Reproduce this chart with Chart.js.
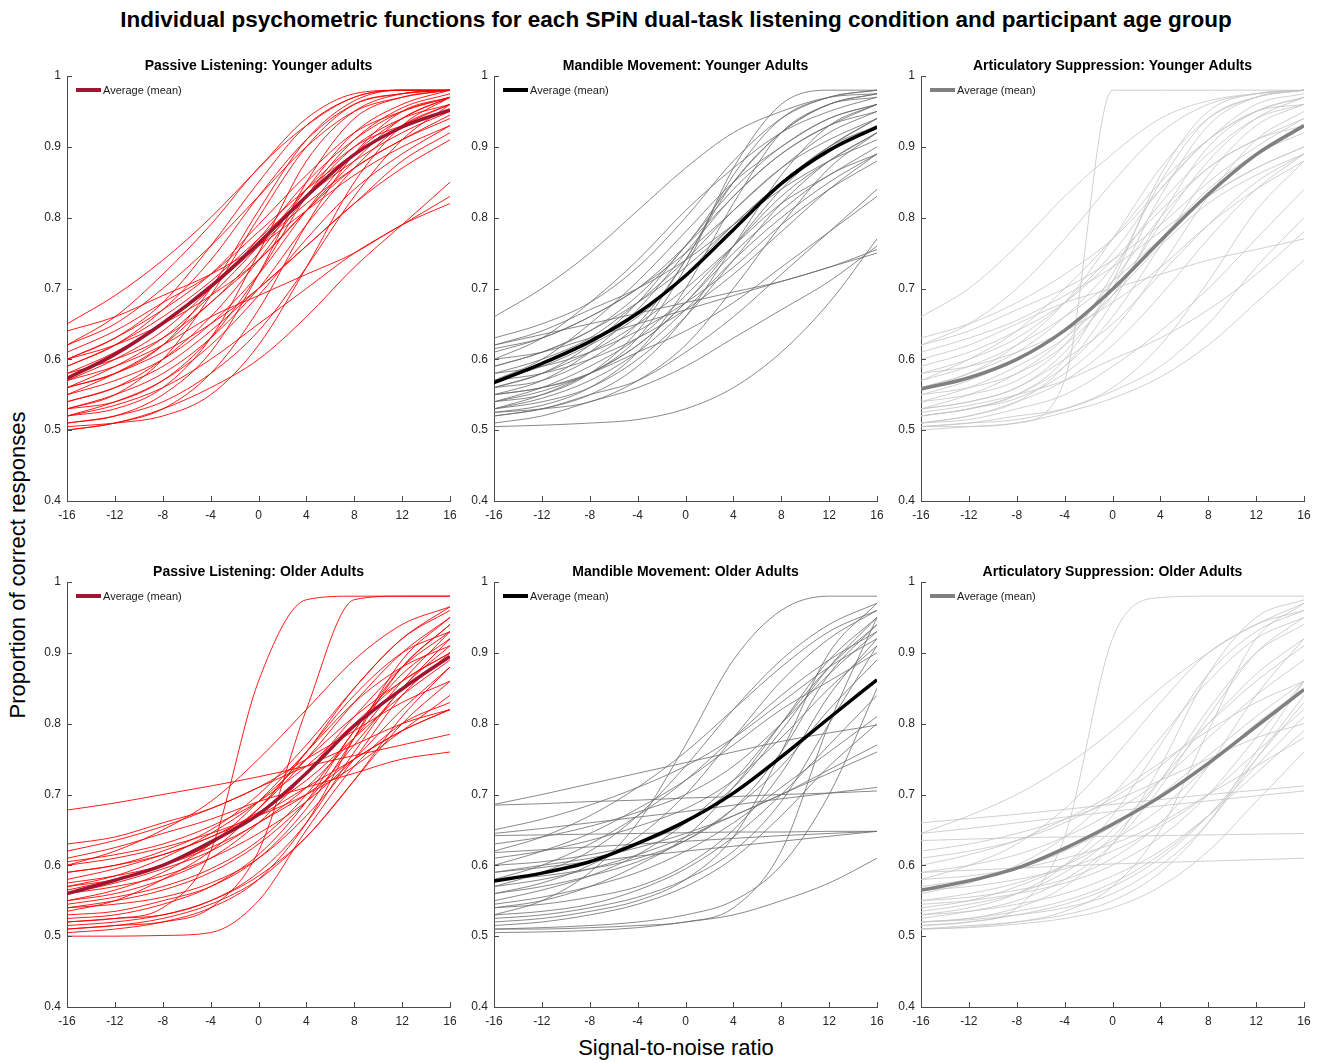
<!DOCTYPE html>
<html>
<head>
<meta charset="utf-8">
<script src="https://cdn.jsdelivr.net/npm/chart.js@4.4.1/dist/chart.umd.min.js"></script>
<style>
  body { margin: 0; background: #fff; }
  #fig { position: relative; width: 1321px; height: 1063px; font-family: "Liberation Sans", Arial, sans-serif; color: #000; overflow: hidden; }
  #fig canvas { position: absolute; }
  .lbl { position: absolute; white-space: nowrap; }
</style>
</head>
<body>
<div id="fig">
  <div class="lbl" style="left:0;width:1352px;top:7px;text-align:center;font-size:22.5px;font-weight:bold;">Individual psychometric functions for each SPiN dual-task listening condition and participant age group</div>
  <div class="lbl" style="left:18px;top:565px;font-size:22px;transform:translate(-50%,-50%) rotate(-90deg);">Proportion of correct responses</div>
  <div class="lbl" style="left:676px;top:1048px;font-size:22px;transform:translate(-50%,-50%);">Signal-to-noise ratio</div>
</div>
<script>
// SNR sample points (dB) and axis ticks
const snr = [-16, -12, -8, -4, 0, 4, 8, 12, 16];
const xTicks = [-16, -12, -8, -4, 0, 4, 8, 12, 16];
const yTicks = [0.4, 0.5, 0.6, 0.7, 0.8, 0.9, 1];

// Passive listening, younger adults
const plYoungMean = [0.573, 0.607, 0.651, 0.703, 0.764, 0.83, 0.889, 0.928, 0.952];
const plYoung = [
  [0.65, 0.69, 0.74, 0.80, 0.87, 0.94, 0.975, 0.98, 0.98],
  [0.62, 0.66, 0.72, 0.79, 0.87, 0.93, 0.97, 0.98, 0.98],
  [0.60, 0.63, 0.68, 0.76, 0.85, 0.93, 0.97, 0.98, 0.98],
  [0.59, 0.62, 0.67, 0.74, 0.83, 0.91, 0.96, 0.975, 0.98],
  [0.56, 0.58, 0.62, 0.70, 0.81, 0.91, 0.965, 0.98, 0.98],
  [0.53, 0.55, 0.60, 0.69, 0.80, 0.90, 0.96, 0.975, 0.98],
  [0.52, 0.53, 0.56, 0.63, 0.75, 0.88, 0.95, 0.975, 0.98],
  [0.51, 0.52, 0.55, 0.61, 0.72, 0.85, 0.94, 0.97, 0.98],
  [0.57, 0.60, 0.64, 0.70, 0.77, 0.85, 0.91, 0.95, 0.97],
  [0.61, 0.64, 0.68, 0.72, 0.78, 0.84, 0.89, 0.93, 0.96],
  [0.64, 0.66, 0.69, 0.72, 0.76, 0.81, 0.86, 0.90, 0.93],
  [0.58, 0.61, 0.65, 0.70, 0.76, 0.82, 0.87, 0.91, 0.94],
  [0.55, 0.58, 0.62, 0.68, 0.74, 0.81, 0.87, 0.91, 0.945],
  [0.53, 0.55, 0.58, 0.63, 0.70, 0.79, 0.87, 0.93, 0.96],
  [0.50, 0.51, 0.53, 0.58, 0.67, 0.79, 0.89, 0.95, 0.97],
  [0.51, 0.52, 0.54, 0.58, 0.64, 0.73, 0.83, 0.91, 0.96],
  [0.54, 0.56, 0.59, 0.64, 0.70, 0.76, 0.82, 0.87, 0.91],
  [0.56, 0.58, 0.61, 0.65, 0.70, 0.76, 0.82, 0.88, 0.92],
  [0.57, 0.59, 0.62, 0.66, 0.69, 0.72, 0.75, 0.79, 0.82],
  [0.50, 0.51, 0.53, 0.56, 0.60, 0.66, 0.73, 0.79, 0.85],
  [0.52, 0.535, 0.56, 0.60, 0.65, 0.70, 0.75, 0.79, 0.83],
  [0.59, 0.62, 0.66, 0.71, 0.77, 0.83, 0.88, 0.92, 0.95],
  [0.60, 0.62, 0.65, 0.69, 0.74, 0.81, 0.88, 0.94, 0.97],
  [0.55, 0.57, 0.60, 0.65, 0.72, 0.81, 0.89, 0.94, 0.97],
  [0.52, 0.54, 0.57, 0.62, 0.69, 0.77, 0.84, 0.89, 0.93],
  [0.505, 0.51, 0.52, 0.55, 0.62, 0.73, 0.85, 0.93, 0.97],
  [0.58, 0.60, 0.63, 0.68, 0.75, 0.84, 0.92, 0.96, 0.98],
  [0.62, 0.65, 0.70, 0.76, 0.83, 0.90, 0.95, 0.97, 0.98],
  [0.54, 0.56, 0.60, 0.66, 0.74, 0.83, 0.90, 0.94, 0.96],
  [0.56, 0.59, 0.63, 0.69, 0.76, 0.84, 0.90, 0.93, 0.95],
  [0.53, 0.54, 0.57, 0.63, 0.72, 0.83, 0.91, 0.955, 0.975],
  [0.60, 0.63, 0.67, 0.72, 0.79, 0.86, 0.92, 0.95, 0.97]
];

// Mandible movement, younger adults
const mmYoungMean = [0.567, 0.594, 0.625, 0.665, 0.718, 0.783, 0.848, 0.895, 0.928];
const mmYoung = [
  [0.66, 0.70, 0.75, 0.81, 0.87, 0.92, 0.95, 0.97, 0.975],
  [0.63, 0.65, 0.68, 0.73, 0.80, 0.88, 0.94, 0.97, 0.98],
  [0.62, 0.64, 0.67, 0.70, 0.74, 0.79, 0.84, 0.88, 0.91],
  [0.61, 0.63, 0.66, 0.70, 0.76, 0.83, 0.89, 0.93, 0.96],
  [0.60, 0.61, 0.63, 0.65, 0.67, 0.69, 0.71, 0.73, 0.755],
  [0.62, 0.635, 0.65, 0.665, 0.68, 0.695, 0.71, 0.73, 0.75],
  [0.59, 0.61, 0.64, 0.69, 0.76, 0.85, 0.92, 0.96, 0.975],
  [0.58, 0.60, 0.63, 0.68, 0.74, 0.81, 0.87, 0.91, 0.94],
  [0.57, 0.59, 0.62, 0.66, 0.72, 0.79, 0.85, 0.90, 0.93],
  [0.56, 0.57, 0.60, 0.65, 0.74, 0.86, 0.94, 0.97, 0.98],
  [0.55, 0.56, 0.58, 0.63, 0.73, 0.87, 0.96, 0.98, 0.98],
  [0.54, 0.55, 0.58, 0.64, 0.74, 0.85, 0.92, 0.96, 0.97],
  [0.54, 0.56, 0.59, 0.63, 0.69, 0.76, 0.83, 0.88, 0.92],
  [0.53, 0.55, 0.58, 0.62, 0.68, 0.75, 0.81, 0.86, 0.89],
  [0.53, 0.54, 0.56, 0.60, 0.66, 0.74, 0.82, 0.88, 0.92],
  [0.52, 0.53, 0.55, 0.59, 0.66, 0.76, 0.86, 0.93, 0.96],
  [0.525, 0.53, 0.54, 0.57, 0.62, 0.70, 0.79, 0.87, 0.92],
  [0.52, 0.53, 0.55, 0.57, 0.61, 0.66, 0.72, 0.78, 0.84],
  [0.55, 0.56, 0.58, 0.61, 0.64, 0.68, 0.73, 0.78, 0.83],
  [0.51, 0.52, 0.54, 0.56, 0.59, 0.63, 0.67, 0.71, 0.76],
  [0.505, 0.507, 0.51, 0.515, 0.53, 0.56, 0.61, 0.68, 0.77],
  [0.56, 0.58, 0.61, 0.65, 0.70, 0.76, 0.82, 0.86, 0.90],
  [0.57, 0.60, 0.65, 0.71, 0.78, 0.85, 0.90, 0.94, 0.96],
  [0.60, 0.63, 0.68, 0.74, 0.81, 0.87, 0.92, 0.95, 0.97],
  [0.55, 0.57, 0.61, 0.67, 0.75, 0.83, 0.89, 0.93, 0.95],
  [0.54, 0.555, 0.58, 0.62, 0.68, 0.76, 0.84, 0.90, 0.94],
  [0.58, 0.59, 0.61, 0.64, 0.68, 0.73, 0.79, 0.84, 0.88],
  [0.53, 0.545, 0.57, 0.61, 0.67, 0.74, 0.80, 0.85, 0.89],
  [0.56, 0.58, 0.62, 0.68, 0.76, 0.84, 0.90, 0.94, 0.96],
  [0.525, 0.535, 0.56, 0.61, 0.70, 0.82, 0.92, 0.96, 0.975],
  [0.59, 0.61, 0.64, 0.68, 0.73, 0.79, 0.85, 0.90, 0.94],
  [0.57, 0.58, 0.60, 0.63, 0.67, 0.72, 0.78, 0.84, 0.89],
  [0.615, 0.63, 0.66, 0.70, 0.75, 0.81, 0.87, 0.92, 0.95]
];

// Articulatory suppression, younger adults
const asYoungMean = [0.558, 0.574, 0.600, 0.641, 0.699, 0.767, 0.833, 0.889, 0.930];
const asYoung = [
  [0.505, 0.505, 0.51, 0.57, 0.98, 0.98, 0.98, 0.98, 0.98],
  [0.66, 0.70, 0.76, 0.83, 0.89, 0.94, 0.965, 0.975, 0.98],
  [0.63, 0.65, 0.68, 0.72, 0.77, 0.84, 0.91, 0.96, 0.975],
  [0.62, 0.64, 0.67, 0.70, 0.74, 0.79, 0.85, 0.90, 0.94],
  [0.61, 0.63, 0.655, 0.69, 0.73, 0.78, 0.83, 0.87, 0.90],
  [0.60, 0.62, 0.65, 0.68, 0.70, 0.72, 0.74, 0.755, 0.77],
  [0.58, 0.60, 0.63, 0.68, 0.75, 0.84, 0.91, 0.95, 0.97],
  [0.56, 0.58, 0.61, 0.66, 0.73, 0.82, 0.89, 0.94, 0.96],
  [0.55, 0.56, 0.58, 0.62, 0.69, 0.79, 0.88, 0.94, 0.97],
  [0.53, 0.54, 0.56, 0.61, 0.70, 0.83, 0.93, 0.97, 0.98],
  [0.52, 0.53, 0.55, 0.60, 0.71, 0.86, 0.95, 0.975, 0.98],
  [0.52, 0.53, 0.545, 0.58, 0.64, 0.73, 0.83, 0.91, 0.95],
  [0.51, 0.52, 0.54, 0.57, 0.62, 0.69, 0.77, 0.84, 0.89],
  [0.51, 0.515, 0.53, 0.55, 0.59, 0.64, 0.70, 0.77, 0.84],
  [0.505, 0.51, 0.52, 0.53, 0.555, 0.59, 0.65, 0.73, 0.80],
  [0.50, 0.505, 0.51, 0.525, 0.545, 0.575, 0.62, 0.68, 0.74],
  [0.525, 0.535, 0.55, 0.57, 0.60, 0.63, 0.67, 0.72, 0.78],
  [0.54, 0.56, 0.59, 0.63, 0.69, 0.76, 0.82, 0.86, 0.89],
  [0.53, 0.55, 0.58, 0.63, 0.71, 0.80, 0.87, 0.91, 0.94],
  [0.57, 0.59, 0.62, 0.66, 0.71, 0.77, 0.83, 0.87, 0.90],
  [0.59, 0.61, 0.64, 0.68, 0.74, 0.81, 0.87, 0.91, 0.93],
  [0.55, 0.57, 0.60, 0.64, 0.70, 0.77, 0.84, 0.89, 0.92],
  [0.52, 0.53, 0.55, 0.59, 0.66, 0.76, 0.86, 0.93, 0.96],
  [0.51, 0.52, 0.54, 0.59, 0.68, 0.80, 0.90, 0.95, 0.97],
  [0.54, 0.55, 0.57, 0.62, 0.72, 0.85, 0.94, 0.97, 0.98],
  [0.56, 0.58, 0.62, 0.68, 0.77, 0.87, 0.94, 0.97, 0.98],
  [0.58, 0.59, 0.61, 0.64, 0.68, 0.73, 0.79, 0.84, 0.88],
  [0.53, 0.54, 0.56, 0.60, 0.65, 0.72, 0.79, 0.85, 0.89],
  [0.62, 0.65, 0.70, 0.77, 0.85, 0.92, 0.96, 0.975, 0.98],
  [0.505, 0.51, 0.515, 0.53, 0.56, 0.62, 0.71, 0.81, 0.88],
  [0.57, 0.60, 0.64, 0.70, 0.77, 0.85, 0.91, 0.95, 0.96]
];

// Passive listening, older adults
const plOldMean = [0.56, 0.579, 0.60, 0.633, 0.672, 0.73, 0.797, 0.849, 0.895];
const plOld = [
  [0.52, 0.525, 0.54, 0.62, 0.86, 0.975, 0.98, 0.98, 0.98],
  [0.51, 0.515, 0.52, 0.54, 0.62, 0.82, 0.975, 0.98, 0.98],
  [0.678, 0.688, 0.70, 0.712, 0.725, 0.74, 0.755, 0.77, 0.785],
  [0.61, 0.625, 0.645, 0.665, 0.69, 0.71, 0.73, 0.75, 0.76],
  [0.50, 0.50, 0.501, 0.505, 0.55, 0.65, 0.74, 0.80, 0.83],
  [0.60, 0.62, 0.65, 0.69, 0.75, 0.82, 0.89, 0.94, 0.965],
  [0.59, 0.60, 0.62, 0.65, 0.70, 0.77, 0.85, 0.92, 0.96],
  [0.57, 0.58, 0.60, 0.63, 0.68, 0.76, 0.85, 0.92, 0.965],
  [0.55, 0.56, 0.58, 0.61, 0.66, 0.73, 0.81, 0.88, 0.93],
  [0.54, 0.55, 0.565, 0.59, 0.63, 0.69, 0.77, 0.85, 0.92],
  [0.53, 0.535, 0.55, 0.57, 0.61, 0.68, 0.78, 0.88, 0.94],
  [0.52, 0.525, 0.53, 0.55, 0.59, 0.66, 0.76, 0.85, 0.91],
  [0.51, 0.515, 0.525, 0.545, 0.58, 0.64, 0.72, 0.80, 0.86],
  [0.505, 0.51, 0.52, 0.54, 0.58, 0.66, 0.78, 0.89, 0.95],
  [0.58, 0.595, 0.615, 0.64, 0.67, 0.71, 0.75, 0.79, 0.82],
  [0.56, 0.575, 0.595, 0.62, 0.66, 0.70, 0.75, 0.79, 0.82],
  [0.62, 0.635, 0.655, 0.68, 0.71, 0.75, 0.79, 0.83, 0.86],
  [0.60, 0.61, 0.625, 0.645, 0.67, 0.70, 0.74, 0.79, 0.84],
  [0.57, 0.585, 0.61, 0.645, 0.69, 0.75, 0.81, 0.86, 0.90],
  [0.55, 0.565, 0.59, 0.63, 0.69, 0.76, 0.83, 0.88, 0.91],
  [0.535, 0.55, 0.58, 0.62, 0.68, 0.76, 0.84, 0.90, 0.93],
  [0.56, 0.57, 0.585, 0.61, 0.645, 0.69, 0.75, 0.82, 0.88],
  [0.54, 0.545, 0.555, 0.575, 0.61, 0.67, 0.75, 0.84, 0.90],
  [0.515, 0.52, 0.53, 0.55, 0.585, 0.64, 0.72, 0.81, 0.88],
  [0.59, 0.60, 0.615, 0.64, 0.675, 0.72, 0.78, 0.84, 0.89],
  [0.63, 0.64, 0.66, 0.68, 0.71, 0.74, 0.77, 0.80, 0.82],
  [0.605, 0.615, 0.63, 0.655, 0.69, 0.74, 0.80, 0.86, 0.90],
  [0.575, 0.585, 0.60, 0.625, 0.66, 0.71, 0.78, 0.86, 0.93],
  [0.525, 0.53, 0.545, 0.57, 0.615, 0.69, 0.79, 0.87, 0.92],
  [0.545, 0.555, 0.57, 0.595, 0.635, 0.70, 0.79, 0.88, 0.94],
  [0.565, 0.58, 0.60, 0.63, 0.68, 0.75, 0.83, 0.90, 0.95]
];

// Mandible movement, older adults
const mmOldMean = [0.578, 0.589, 0.605, 0.631, 0.662, 0.702, 0.753, 0.808, 0.862];
const mmOld = [
  [0.53, 0.55, 0.59, 0.66, 0.77, 0.89, 0.96, 0.98, 0.98],
  [0.685, 0.687, 0.69, 0.692, 0.695, 0.697, 0.70, 0.702, 0.705],
  [0.686, 0.70, 0.715, 0.73, 0.745, 0.76, 0.775, 0.787, 0.798],
  [0.642, 0.643, 0.644, 0.645, 0.646, 0.647, 0.647, 0.648, 0.648],
  [0.645, 0.652, 0.66, 0.668, 0.676, 0.685, 0.694, 0.702, 0.71],
  [0.618, 0.622, 0.626, 0.63, 0.634, 0.638, 0.642, 0.645, 0.648],
  [0.59, 0.597, 0.605, 0.613, 0.62, 0.627, 0.634, 0.641, 0.648],
  [0.505, 0.506, 0.508, 0.512, 0.52, 0.53, 0.55, 0.575, 0.61],
  [0.51, 0.51, 0.512, 0.515, 0.52, 0.54, 0.62, 0.80, 0.95],
  [0.52, 0.525, 0.535, 0.55, 0.58, 0.64, 0.76, 0.90, 0.97],
  [0.54, 0.55, 0.57, 0.60, 0.64, 0.71, 0.80, 0.89, 0.95],
  [0.55, 0.565, 0.585, 0.615, 0.66, 0.72, 0.80, 0.88, 0.94],
  [0.56, 0.575, 0.60, 0.64, 0.70, 0.78, 0.86, 0.92, 0.96],
  [0.57, 0.59, 0.62, 0.67, 0.74, 0.82, 0.89, 0.94, 0.97],
  [0.58, 0.60, 0.63, 0.67, 0.72, 0.78, 0.84, 0.89, 0.93],
  [0.60, 0.62, 0.645, 0.68, 0.72, 0.77, 0.82, 0.86, 0.90],
  [0.62, 0.64, 0.67, 0.71, 0.76, 0.82, 0.88, 0.93, 0.96],
  [0.65, 0.665, 0.685, 0.71, 0.74, 0.78, 0.83, 0.88, 0.92],
  [0.515, 0.52, 0.53, 0.545, 0.57, 0.61, 0.67, 0.74, 0.80],
  [0.53, 0.535, 0.545, 0.565, 0.595, 0.64, 0.70, 0.77, 0.84],
  [0.545, 0.555, 0.57, 0.59, 0.62, 0.66, 0.71, 0.76, 0.81],
  [0.57, 0.58, 0.595, 0.615, 0.64, 0.67, 0.70, 0.735, 0.77],
  [0.59, 0.60, 0.61, 0.625, 0.645, 0.67, 0.70, 0.73, 0.76],
  [0.56, 0.57, 0.585, 0.605, 0.635, 0.68, 0.74, 0.82, 0.89],
  [0.525, 0.53, 0.54, 0.555, 0.58, 0.62, 0.69, 0.80, 0.91],
  [0.61, 0.62, 0.635, 0.655, 0.68, 0.72, 0.78, 0.85, 0.91],
  [0.63, 0.64, 0.655, 0.675, 0.70, 0.74, 0.80, 0.87, 0.93],
  [0.60, 0.605, 0.615, 0.63, 0.66, 0.71, 0.79, 0.88, 0.95],
  [0.58, 0.585, 0.595, 0.61, 0.635, 0.68, 0.76, 0.87, 0.94],
  [0.54, 0.545, 0.555, 0.57, 0.60, 0.65, 0.73, 0.84, 0.92],
  [0.51, 0.512, 0.515, 0.52, 0.53, 0.55, 0.60, 0.70, 0.85]
];

// Articulatory suppression, older adults
const asOldMean = [0.565, 0.578, 0.596, 0.624, 0.658, 0.697, 0.744, 0.796, 0.848];
const asOld = [
  [0.515, 0.52, 0.54, 0.64, 0.92, 0.978, 0.98, 0.98, 0.98],
  [0.645, 0.67, 0.70, 0.74, 0.79, 0.85, 0.90, 0.94, 0.96],
  [0.66, 0.666, 0.672, 0.679, 0.686, 0.693, 0.70, 0.706, 0.712],
  [0.635, 0.637, 0.639, 0.64, 0.641, 0.642, 0.643, 0.644, 0.645],
  [0.59, 0.593, 0.596, 0.599, 0.602, 0.604, 0.606, 0.608, 0.61],
  [0.645, 0.652, 0.66, 0.668, 0.676, 0.684, 0.691, 0.698, 0.705],
  [0.52, 0.525, 0.54, 0.57, 0.63, 0.74, 0.87, 0.95, 0.975],
  [0.51, 0.515, 0.52, 0.535, 0.57, 0.65, 0.79, 0.92, 0.97],
  [0.525, 0.535, 0.55, 0.58, 0.63, 0.71, 0.81, 0.90, 0.95],
  [0.54, 0.55, 0.57, 0.60, 0.65, 0.72, 0.80, 0.87, 0.92],
  [0.56, 0.575, 0.60, 0.64, 0.70, 0.78, 0.86, 0.92, 0.95],
  [0.58, 0.60, 0.63, 0.68, 0.75, 0.83, 0.90, 0.94, 0.97],
  [0.60, 0.615, 0.635, 0.665, 0.70, 0.745, 0.79, 0.83, 0.86],
  [0.62, 0.63, 0.645, 0.665, 0.69, 0.72, 0.75, 0.78, 0.80],
  [0.55, 0.56, 0.575, 0.60, 0.635, 0.68, 0.74, 0.80, 0.85],
  [0.53, 0.535, 0.545, 0.56, 0.585, 0.62, 0.67, 0.73, 0.79],
  [0.515, 0.52, 0.53, 0.545, 0.57, 0.61, 0.67, 0.75, 0.83],
  [0.51, 0.512, 0.517, 0.525, 0.54, 0.57, 0.62, 0.69, 0.76],
  [0.52, 0.525, 0.535, 0.55, 0.575, 0.615, 0.67, 0.74, 0.81],
  [0.57, 0.58, 0.595, 0.62, 0.655, 0.70, 0.755, 0.81, 0.86],
  [0.59, 0.60, 0.615, 0.64, 0.675, 0.72, 0.78, 0.84, 0.89],
  [0.535, 0.545, 0.56, 0.59, 0.64, 0.72, 0.82, 0.90, 0.94],
  [0.545, 0.55, 0.56, 0.575, 0.60, 0.64, 0.70, 0.78, 0.86],
  [0.565, 0.57, 0.58, 0.595, 0.62, 0.655, 0.70, 0.76, 0.82],
  [0.52, 0.523, 0.53, 0.54, 0.56, 0.60, 0.66, 0.75, 0.84],
  [0.61, 0.62, 0.635, 0.66, 0.695, 0.74, 0.80, 0.86, 0.91],
  [0.55, 0.555, 0.565, 0.58, 0.61, 0.66, 0.74, 0.84, 0.92],
  [0.53, 0.54, 0.56, 0.60, 0.67, 0.77, 0.87, 0.93, 0.96],
  [0.58, 0.585, 0.595, 0.61, 0.63, 0.66, 0.70, 0.74, 0.78],
  [0.51, 0.513, 0.52, 0.53, 0.55, 0.59, 0.66, 0.76, 0.86]
];

const FONT = '"Liberation Sans", Arial, sans-serif';
const axisColor = "#4a4a4a";

// panel layout: plot-area left/top in page pixels
const colLeft = [67, 494, 921];
const rowTop = [76, 582];
const plotW = 383, plotH = 425;
const padL = 50, padT = 40, padR = 20, padB = 30;

const panels = [
  { title: "Passive Listening: Younger adults", mean: plYoungMean, curves: plYoung, line: "#ff0000", lw: 0.9, meanColor: "#a01631", col: 0, row: 0 },
  { title: "Mandible Movement: Younger Adults", mean: mmYoungMean, curves: mmYoung, line: "#6b6b6b", lw: 0.8, meanColor: "#000000", col: 1, row: 0 },
  { title: "Articulatory Suppression: Younger Adults", mean: asYoungMean, curves: asYoung, line: "#c4c4c4", lw: 0.8, meanColor: "#808080", col: 2, row: 0 },
  { title: "Passive Listening: Older Adults", mean: plOldMean, curves: plOld, line: "#ff0000", lw: 0.9, meanColor: "#a01631", col: 0, row: 1 },
  { title: "Mandible Movement: Older Adults", mean: mmOldMean, curves: mmOld, line: "#6b6b6b", lw: 0.8, meanColor: "#000000", col: 1, row: 1 },
  { title: "Articulatory Suppression: Older Adults", mean: asOldMean, curves: asOld, line: "#c4c4c4", lw: 0.8, meanColor: "#808080", col: 2, row: 1 }
];

// inward tick marks (matlab style), subplot title and the small legend
const panelDecor = {
  id: "panelDecor",
  afterDraw(chart, args, opts) {
    const { ctx, chartArea: a } = chart;
    const x = chart.scales.x, y = chart.scales.y;
    ctx.save();
    ctx.strokeStyle = axisColor;
    ctx.lineWidth = 1;
    ctx.beginPath();
    xTicks.forEach(v => {
      const px = Math.round(x.getPixelForValue(v)) + 0.5;
      ctx.moveTo(px, a.bottom);
      ctx.lineTo(px, a.bottom - 5);
    });
    yTicks.forEach(v => {
      const py = Math.round(y.getPixelForValue(v)) + 0.5;
      ctx.moveTo(a.left, py);
      ctx.lineTo(a.left + 5, py);
    });
    ctx.stroke();

    ctx.fillStyle = "#000";
    ctx.font = "bold 14px " + FONT;
    ctx.textAlign = "center";
    ctx.textBaseline = "middle";
    ctx.fillText(opts.title, (a.left + a.right) / 2, a.top - 10);

    // legend: only the mean line
    ctx.fillStyle = opts.meanColor;
    ctx.fillRect(a.left + 9, a.top + 12, 25, 4);
    ctx.fillStyle = "#1a1a1a";
    ctx.font = "11px " + FONT;
    ctx.textAlign = "left";
    ctx.fillText(opts.label, a.left + 36, a.top + 14.5);
    ctx.restore();
  }
};

function toPoints(vals) {
  return vals.map((v, i) => ({ x: snr[i], y: v }));
}

function makePanel(p) {
  const fig = document.getElementById("fig");
  const cv = document.createElement("canvas");
  cv.width = padL + plotW + padR;
  cv.height = padT + plotH + padB;
  cv.style.left = (colLeft[p.col] - padL) + "px";
  cv.style.top = (rowTop[p.row] - padT) + "px";
  fig.appendChild(cv);

  const datasets = [{
    label: "Average (mean)",
    data: toPoints(p.mean),
    borderColor: p.meanColor,
    backgroundColor: p.meanColor,
    borderWidth: 3.5,
    order: 0
  }];
  p.curves.forEach((c, i) => {
    datasets.push({
      label: "P" + (i + 1),
      data: toPoints(c),
      borderColor: p.line,
      borderWidth: p.lw,
      order: 1
    });
  });

  new Chart(cv, {
    type: "line",
    data: { datasets },
    options: {
      responsive: false,
      animation: false,
      devicePixelRatio: 1,
      layout: { padding: { left: 0, top: padT, right: padR, bottom: 0 } },
      elements: {
        point: { radius: 0 },
        line: { cubicInterpolationMode: "monotone", fill: false }
      },
      plugins: {
        title: { display: false },
        tooltip: { enabled: false },
        legend: { display: false },
        panelDecor: { title: p.title, label: "Average (mean)", meanColor: p.meanColor }
      },
      scales: {
        x: {
          type: "linear",
          min: -16,
          max: 16,
          afterBuildTicks: s => { s.ticks = xTicks.map(v => ({ value: v })); },
          afterFit: s => { s.height = padB; },
          grid: { display: false, drawTicks: false },
          border: { display: true, color: axisColor, width: 1 },
          ticks: {
            autoSkip: false, maxRotation: 0, padding: 7,
            color: "#262626", font: { family: FONT, size: 12 },
            callback: v => String(v)
          }
        },
        y: {
          min: 0.4,
          max: 1,
          afterBuildTicks: s => { s.ticks = yTicks.map(v => ({ value: v })); },
          afterFit: s => { s.width = padL; },
          grid: { display: false, drawTicks: false },
          border: { display: true, color: axisColor, width: 1 },
          ticks: {
            autoSkip: false, padding: 6,
            color: "#262626", font: { family: FONT, size: 12 },
            callback: v => String(Number(v.toFixed(1)))
          }
        }
      }
    },
    plugins: [panelDecor]
  });
}

panels.forEach(makePanel);
</script>
</body>
</html>
